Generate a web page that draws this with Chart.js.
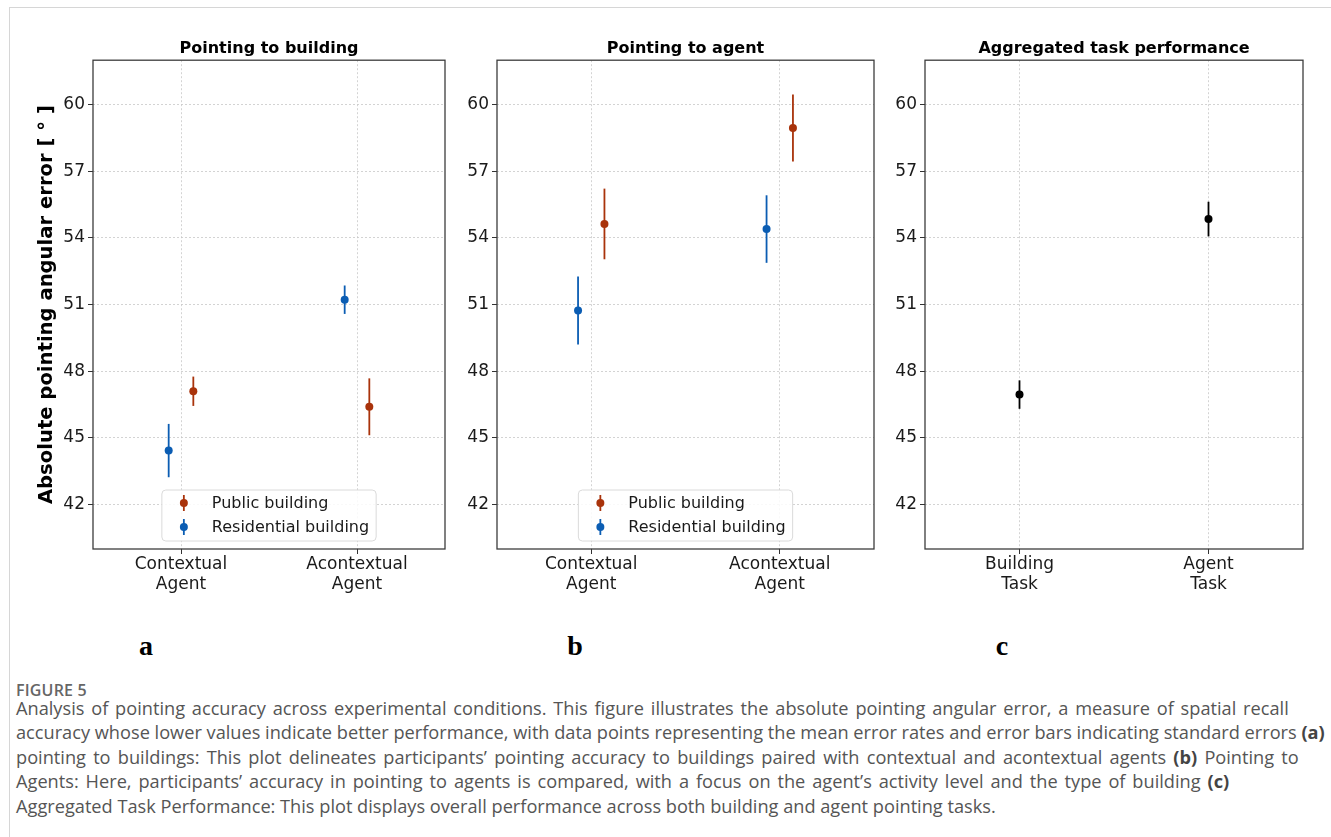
<!DOCTYPE html>
<html>
<head>
<meta charset="utf-8">
<title>Figure 5</title>
<script src="https://cdn.jsdelivr.net/npm/chart.js@4.4.1/dist/chart.umd.min.js"></script>
<style>
  html, body { margin: 0; padding: 0; background: #fff; }
  body { width: 1331px; height: 837px; position: relative; overflow: hidden; }
  .frame { position: absolute; left: 9px; top: 7px; right: -2px; bottom: -2px;
           border-top: 1.5px solid #d6d6d6; border-left: 1.5px solid #d6d6d6; }
  canvas { position: absolute; top: 0; }
  .letter { position: absolute; top: 629px; font-family: "Liberation Serif", serif; font-weight: bold;
            font-size: 28px; line-height: 34px; transform: translateX(-50%); color: #000; }
  .figlabel { position: absolute; left: 16px; top: 680px; font-family: "Open Sans", sans-serif;
              font-weight: 600; font-size: 16px; line-height: 20px; color: #666; letter-spacing: 0.2px; }
  .caption { position: absolute; left: 16px; top: 696px; font-family: "Open Sans", sans-serif;
             font-size: 18.2px; line-height: 24.4px; color: #555; white-space: nowrap; }
  .caption b { font-weight: 700; color: #444; }
</style>
</head>
<body>
<div class="frame"></div>
<canvas id="chartA" width="460" height="620" style="left:0px"></canvas>
<canvas id="chartB" width="420" height="620" style="left:460px"></canvas>
<canvas id="chartC" width="451" height="620" style="left:880px"></canvas>
<div class="letter" style="left:146px">a</div>
<div class="letter" style="left:575px">b</div>
<div class="letter" style="left:1002px">c</div>
<div class="figlabel">FIGURE 5</div>
<div class="caption"><span style="word-spacing:2.1px">Analysis of pointing accuracy across experimental conditions. This figure illustrates the absolute pointing angular error, a measure of spatial recall</span><br>accuracy whose lower values indicate better performance, with data points representing the mean error rates and error bars indicating standard errors <b>(a)</b><br><span style="word-spacing:2.5px">pointing to buildings: This plot delineates participants’ pointing accuracy to buildings paired with contextual and acontextual agents <b>(b)</b> Pointing to</span><br><span style="word-spacing:2.2px">Agents: Here, participants’ accuracy in pointing to agents is compared, with a focus on the agent’s activity level and the type of building <b>(c)</b></span><br>Aggregated Task Performance: This plot displays overall performance across both building and agent pointing tasks.</div>

<script>
// 축 눈금
const yTicks = [42, 45, 48, 51, 54, 57, 60];
const yMin = 40, yMax = 62;

// (a) Pointing to building
const buildingCategories = [['Contextual', 'Agent'], ['Acontextual', 'Agent']];
const buildingPublicMean = [47.1, 46.4];
const buildingPublicErr = [0.66, 1.28];
const buildingResidentialMean = [44.43, 51.22];
const buildingResidentialErr = [1.2, 0.64];

// (b) Pointing to agent
const agentCategories = [['Contextual', 'Agent'], ['Acontextual', 'Agent']];
const agentPublicMean = [54.63, 58.95];
const agentPublicErr = [1.59, 1.51];
const agentResidentialMean = [50.73, 54.4];
const agentResidentialErr = [1.53, 1.52];

// (c) Aggregated task performance
const taskCategories = [['Building', 'Task'], ['Agent', 'Task']];
const taskMean = [46.95, 54.85];
const taskErr = [0.64, 0.78];

const RED = '#a9330b';
const BLUE = '#0b5db3';
const BLACK = '#000000';
const SHIFT = 0.07;

Chart.defaults.font.family = '"DejaVu Sans", sans-serif';
Chart.defaults.color = '#1a1a1a';

// 에러바 (점 뒤에 그림)
const errorBars = {
	id: 'errorBars',
	beforeDatasetsDraw(chart) {
		const ctx = chart.ctx, y = chart.scales.y;
		chart.data.datasets.forEach((ds, di) => {
			const meta = chart.getDatasetMeta(di);
			ctx.save();
			ctx.strokeStyle = ds.borderColor;
			ctx.lineWidth = 1.8;
			meta.data.forEach((pt, i) => {
				const m = ds.data[i].y, e = ds.err[i];
				ctx.beginPath();
				ctx.moveTo(pt.x, y.getPixelForValue(m + e));
				ctx.lineTo(pt.x, y.getPixelForValue(m - e));
				ctx.stroke();
			});
			ctx.restore();
		});
	}
};

// 플롯 테두리
const frameBox = {
	id: 'frameBox',
	beforeDatasetsDraw(chart) {
		const {ctx, chartArea: a} = chart;
		ctx.save();
		ctx.strokeStyle = '#3c3c3c';
		ctx.lineWidth = 1.3;
		ctx.strokeRect(a.left, a.top, a.right - a.left, a.bottom - a.top);
		ctx.restore();
	}
};

// 범례 (lower center, 차트 안쪽)
const innerLegend = {
	id: 'innerLegend',
	afterDatasetsDraw(chart, args, opts) {
		if (!opts.show) return;
		const {ctx, chartArea: a} = chart;
		const dsets = chart.data.datasets;
		ctx.save();
		ctx.font = '16px "DejaVu Sans", sans-serif';
		let tw = 0;
		dsets.forEach(ds => { tw = Math.max(tw, ctx.measureText(ds.label).width); });
		const w = 50 + tw + 7, h = 51;
		const left = (a.left + a.right) / 2 - w / 2;
		const top = a.bottom - 8 - h;
		ctx.beginPath();
		ctx.roundRect(left, top, w, h, 4);
		ctx.fillStyle = 'rgba(255,255,255,0.85)';
		ctx.fill();
		ctx.strokeStyle = '#dadada';
		ctx.lineWidth = 1;
		ctx.stroke();
		dsets.forEach((ds, i) => {
			const cy = top + 13 + i * 24;
			const mx = left + 22;
			ctx.strokeStyle = ds.borderColor;
			ctx.lineWidth = 1.8;
			ctx.beginPath();
			ctx.moveTo(mx, cy - 8);
			ctx.lineTo(mx, cy + 8);
			ctx.stroke();
			ctx.fillStyle = ds.backgroundColor;
			ctx.beginPath();
			ctx.arc(mx, cy, 4, 0, Math.PI * 2);
			ctx.fill();
			ctx.fillStyle = '#1a1a1a';
			ctx.textBaseline = 'middle';
			ctx.fillText(ds.label, left + 50, cy + 1);
		});
		ctx.restore();
	}
};

function series(label, means, errs, color, shift) {
	return {
		label: label,
		data: means.map((m, i) => ({x: i + shift, y: m})),
		err: errs,
		backgroundColor: color,
		borderColor: color,
		pointRadius: 4,
		pointHoverRadius: 4,
		borderWidth: 0,
		showLine: false
	};
}

const gridStyle = {color: '#c8c8c8', lineWidth: 0.8,
	tickLength: 5, tickColor: '#333', tickWidth: 1, tickBorderDash: []};

function makePanel(id, title, categories, datasets, axisWidth, padRight, yTitle, legend) {
	return new Chart(document.getElementById(id), {
		type: 'scatter',
		data: {datasets: datasets},
		plugins: [frameBox, errorBars, innerLegend],
		options: {
			responsive: false,
			animation: false,
			events: [],
			layout: {padding: {left: 0, right: padRight, top: 0, bottom: 0}},
			plugins: {
				legend: {display: false},
				tooltip: {enabled: false},
				innerLegend: {show: legend},
				title: {
					display: true,
					text: title,
					fullSize: false,
					color: '#000',
					font: {size: 16, weight: 'bold'},
					padding: {top: 39, bottom: 2}
				}
			},
			scales: {
				x: {
					type: 'linear',
					min: -0.5,
					max: 1.5,
					afterBuildTicks: s => { s.ticks = categories.map((c, i) => ({value: i})); },
					afterFit: s => { s.height = 71; },
					ticks: {
						font: {size: 17},
						color: '#1a1a1a',
						padding: 0,
						maxRotation: 0,
						callback: v => categories[Math.round(v)]
					},
					grid: gridStyle,
					border: {display: false, dash: [2, 2]}
				},
				y: {
					min: yMin,
					max: yMax,
					afterBuildTicks: s => { s.ticks = yTicks.map(v => ({value: v})); },
					afterFit: s => { s.width = axisWidth; },
					ticks: {font: {size: 17}, color: '#1a1a1a', padding: 3},
					title: {
						display: !!yTitle,
						text: yTitle || '',
						color: '#000',
						font: {size: 19.6, weight: 'bold'},
						padding: {top: 35.5, bottom: 0}
					},
					grid: gridStyle,
					border: {display: false, dash: [2, 2]}
				}
			}
		}
	});
}

makePanel('chartA', 'Pointing to building', buildingCategories, [
	series('Public building', buildingPublicMean, buildingPublicErr, RED, SHIFT),
	series('Residential building', buildingResidentialMean, buildingResidentialErr, BLUE, -SHIFT)
], 93, 15, 'Absolute pointing angular error [ ° ]', true);

makePanel('chartB', 'Pointing to agent', agentCategories, [
	series('Public building', agentPublicMean, agentPublicErr, RED, SHIFT),
	series('Residential building', agentResidentialMean, agentResidentialErr, BLUE, -SHIFT)
], 37, 6, null, true);

makePanel('chartC', 'Aggregated task performance', taskCategories, [
	series('Task', taskMean, taskErr, BLACK, 0)
], 45, 28, null, false);
</script>
</body>
</html>
